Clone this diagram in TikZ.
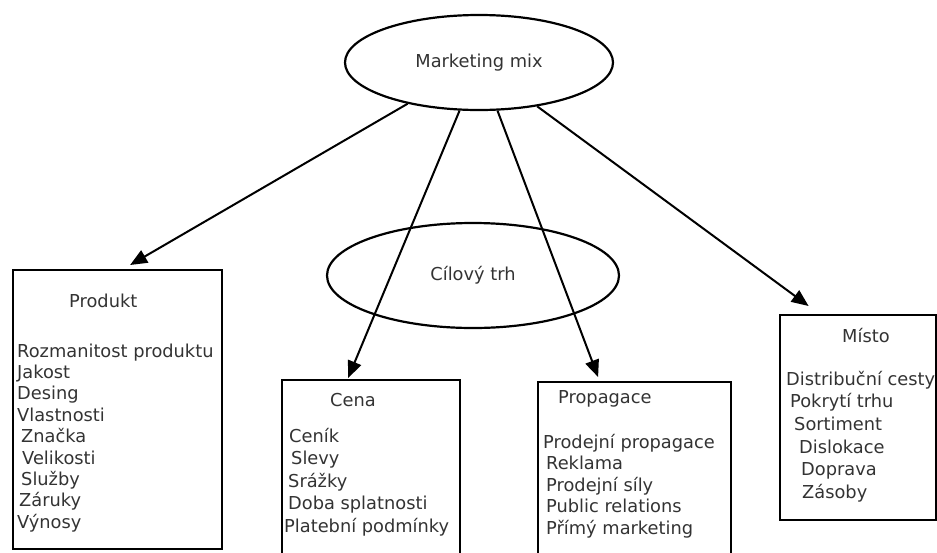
\documentclass[tikz,border=0pt]{standalone}
\usepackage{fontspec}
\setmainfont{DejaVu Sans}
\usetikzlibrary{arrows.meta,shapes.geometric}

\begin{document}
\begin{tikzpicture}[x=1pt,y=-1pt,
    font=\fontsize{17.8}{21.5}\selectfont,
    oval/.style={ellipse, draw, line width=2.2pt, inner sep=0, text=black!80},
    box/.style={rectangle, draw, line width=2.2pt, anchor=north west, inner sep=0},
    item/.style={anchor=base west, inner sep=0, text=black!80},
    arrowB/.style={-{Triangle[length=17pt,width=14pt]}, line width=2pt}]

      \useasboundingbox (0,0) rectangle (937,552);
      \clip (0,0) rectangle (937,552);

      % ovals
      \node[oval, minimum width=268pt, minimum height=95pt] (mix) at (479,62.5) {Marketing mix};
      \node[oval, minimum width=292pt, minimum height=105pt] (cil) at (473,275.5) {Cílový trh};

      % boxes
      \node[box, minimum width=209pt, minimum height=279pt] (produkt) at (12,269) {};
      \node[box, minimum width=178pt, minimum height=200pt] (cena) at (281,379) {};
      \node[box, minimum width=193pt, minimum height=200pt] (propagace) at (537,381) {};
      \node[box, minimum width=156pt, minimum height=205pt] (misto) at (779,314) {};

      % titles
      \node[item] (produktT) at (69,307) {Produkt};
      \node[item] (cenaT) at (330,406) {Cena};
      \node[item] (propagaceT) at (558,403) {Propagace};
      \node[item] (mistoT) at (842,342) {Místo};

      % lists
      \foreach \x/\t [count=\i] in {17/Rozmanitost produktu, 17/Jakost, 17/Desing, 17/Vlastnosti,
          21/Značka, 22/Velikosti, 21/Služby, 19/Záruky, 17/Výnosy}
        \node[item] (produkt\i) at (\x, {357+21.4*(\i-1)}) {\t};
      \foreach \x/\t [count=\i] in {289/Ceník, 291/Slevy, 288/Srážky, 288/Doba splatnosti, 284/Platební podmínky}
        \node[item] (cena\i) at (\x, {442+22.5*(\i-1)}) {\t};
      \foreach \x/\t [count=\i] in {543/Prodejní propagace, 546/Reklama, 546/Prodejní síly,
          546/Public relations, 546/Přímý marketing}
        \node[item] (propagace\i) at (\x, {448+21.5*(\i-1)}) {\t};
      \foreach \x/\t [count=\i] in {786/Distribuční cesty, 790/Pokrytí trhu, 794/Sortiment,
          799/Dislokace, 801/Doprava, 802/Zásoby}
        \node[item] (misto\i) at (\x, {385+22.7*(\i-1)}) {\t};

      % arrows
      \draw[arrowB] (mix.210) -- ([xshift=12.5pt, yshift=4pt]produkt.north);
      \draw[arrowB] (mix.248) -- ([xshift=-23pt, yshift=1pt]cena.north);
      \draw[arrowB] (mix.291) -- ([xshift=-36.5pt, yshift=4pt]propagace.north);
      \draw[arrowB] (mix.323) -- ([xshift=-49.5pt, yshift=8pt]misto.north);
    \end{tikzpicture}
\end{document}
